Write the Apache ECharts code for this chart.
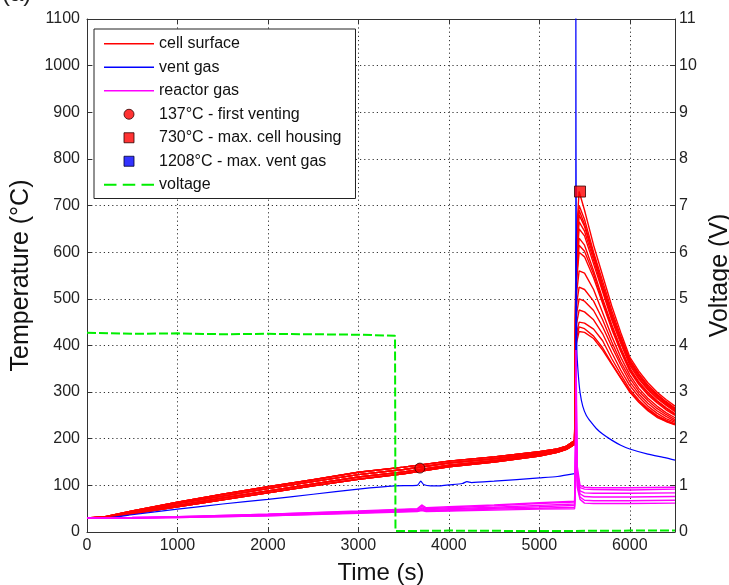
<!DOCTYPE html>
<html>
<head>
<meta charset="utf-8">
<script src="https://cdn.jsdelivr.net/npm/echarts@6/dist/echarts.min.js"></script>
<style>
html,body{margin:0;padding:0;background:#fff;}
#c{width:729px;height:585px;}
</style>
</head>
<body>
<div id="c"></div>
<script>
// ---------- DATA ----------
// cell surface (red) – pre-spike part (shared time grid)
const redPreTimes = [0, 200, 500, 1000, 1500, 2000, 2500, 3000, 3500, 4000, 4500, 5000, 5200, 5300, 5390];
const redPreA = [30, 33, 45, 64, 81, 97, 112, 128, 139, 152, 161, 172, 178, 184, 196];
const redPreB = [30, 32, 43, 61, 77, 93, 108, 123, 134, 148, 157, 169, 176, 182, 194];
const redPreC = [30, 31, 41, 57, 73, 88, 103, 118, 129, 143, 153, 166, 173, 179, 191];
const redPreD = [30, 30, 39, 54, 69, 84, 99, 113, 125, 140, 150, 163, 171, 177, 188];
// cell surface (red) – post-spike part
const redPostTimes = [5405, 5440, 5500, 5600, 5700, 5800, 5900, 6000, 6100, 6200, 6300, 6400, 6500];
const redPost1  = [620, 730, 690, 615, 550, 485, 428, 375, 345, 320, 300, 284, 270];
const redPost2  = [600, 700, 670, 600, 538, 475, 420, 370, 340, 315, 296, 280, 266];
const redPost3  = [590, 690, 660, 595, 530, 468, 415, 367, 337, 312, 294, 278, 264];
const redPost4  = [580, 680, 655, 590, 525, 465, 412, 365, 335, 310, 292, 276, 262];
const redPost5  = [570, 665, 645, 583, 520, 460, 408, 361, 331, 307, 289, 274, 260];
const redPost6  = [560, 650, 635, 575, 515, 455, 405, 358, 328, 305, 287, 272, 258];
const redPost7  = [540, 630, 615, 560, 500, 445, 395, 352, 322, 300, 282, 267, 254];
const redPost8  = [530, 615, 602, 553, 495, 440, 391, 348, 319, 297, 280, 265, 252];
const redPost9  = [520, 600, 590, 545, 490, 435, 387, 345, 316, 294, 277, 262, 250];
const redPost10 = [500, 560, 555, 520, 470, 420, 375, 337, 308, 287, 270, 256, 245];
const redPost11 = [480, 525, 520, 495, 455, 408, 365, 330, 302, 282, 265, 252, 241];
const redPost12 = [460, 500, 495, 475, 440, 398, 358, 322, 296, 276, 260, 248, 238];
const redPost13 = [440, 476, 472, 455, 425, 385, 347, 314, 290, 270, 255, 243, 235];
const redPost14 = [420, 450, 448, 435, 410, 372, 338, 306, 283, 265, 250, 240, 232];
const redPost15 = [400, 430, 428, 415, 390, 360, 330, 300, 278, 260, 246, 237, 230];
const redPost16 = [410, 440, 436, 420, 395, 362, 331, 302, 280, 262, 248, 238, 231];

// vent gas (blue)
const blueTimes  = [0, 200, 500, 1000, 1500, 2000, 2500, 3000, 3400, 3650, 3690, 3720, 3800, 3900, 4000, 4150, 4200, 4250, 4500, 5000, 5200, 5390, 5402, 5404, 5406, 5410, 5415, 5430, 5450, 5480, 5520, 5570, 5630, 5700, 5800, 5900, 6000, 6200, 6400, 6500];
const blueValues = [30, 30, 37, 49, 60, 70, 81, 92, 99, 100, 109, 102, 99, 99, 101, 104, 108, 106, 109, 116, 119, 125, 126, 1208, 830, 600, 390, 340, 300, 270, 250, 236, 222, 210, 197, 186, 178, 167, 159, 154];

// reactor gas (magenta)
const magPreTimes = [0, 500, 1000, 2000, 3000, 3650, 3700, 3750, 4000, 4500, 5000, 5390];
const magPre1 = [30, 31, 33, 38, 45, 50, 58, 52, 54, 58, 63, 66];
const magPre2 = [30, 31, 33, 38, 44, 49, 55, 50, 52, 56, 61, 64];
const magPre3 = [30, 30, 32, 37, 43, 47, 52, 48, 50, 53, 57, 60];
const magPre4 = [30, 30, 32, 36, 42, 46, 50, 46, 48, 51, 54, 57];
const magPre5 = [30, 30, 31, 35, 41, 45, 48, 45, 46, 49, 51, 53];
const magPre6 = [30, 30, 31, 35, 40, 44, 46, 44, 45, 47, 49, 50];
const magPostTimes = [5400, 5405, 5420, 5450, 5500, 5600, 6000, 6500];
const magPost1 = [200, 390, 140, 100, 96, 95, 95, 96];
const magPost2 = [180, 330, 130, 95, 92, 91, 90, 92];
const magPost3 = [160, 280, 120, 88, 84, 83, 83, 84];
const magPost4 = [150, 250, 110, 82, 76, 75, 75, 76];
const magPost5 = [140, 230, 100, 75, 68, 67, 67, 68];
const magPost6 = [130, 210, 95, 70, 62, 61, 61, 62];

// voltage (green, right axis)
const voltTimes  = [0, 500, 1000, 1500, 2000, 2500, 3000, 3405, 3410, 4000, 5000, 6000, 6500];
const voltValues = [4.27, 4.25, 4.26, 4.24, 4.25, 4.24, 4.23, 4.21, 0.02, 0.03, 0.02, 0.03, 0.03];

// markers
const firstVenting = [3680, 137];
const maxCellHousing = [5450, 730];
const maxVentGas = [5404, 1208];

// axes ticks
const xTicks = {min: 0, max: 6500, interval: 1000};
const yTicks = {min: 0, max: 1100, interval: 100};
const y2Ticks = {min: 0, max: 11, interval: 1};

// ---------- BUILD ----------
const zip = (t, v) => t.map((x, i) => [x, v[i]]);
const redPres = [redPreA, redPreC, redPreB, redPreD];
const redPosts = [redPost1, redPost2, redPost3, redPost4, redPost5, redPost6, redPost7, redPost8,
  redPost9, redPost10, redPost11, redPost12, redPost13, redPost14, redPost15, redPost16];
const magPres = [magPre1, magPre2, magPre3, magPre4, magPre5, magPre6];
const magPosts = [magPost1, magPost2, magPost3, magPost4, magPost5, magPost6];

const FONT = 'Liberation Sans, Arial, Helvetica, sans-serif';
const series = [];
redPosts.forEach((post, i) => {
  series.push({
    name: 'cell surface', type: 'line', showSymbol: false, symbol: 'none',
    data: zip(redPreTimes, redPres[i % 4]).concat(zip(redPostTimes, post)),
    lineStyle: {color: '#ff0000', width: 1.4}, itemStyle: {color: '#ff0000'},
    animation: false, z: 2
  });
});
series.push({
  name: 'vent gas', type: 'line', symbol: 'none', smooth: 0.2, data: zip(blueTimes, blueValues),
  lineStyle: {color: '#0000ff', width: 1.2}, itemStyle: {color: '#0000ff'}, animation: false, z: 3
});
magPosts.forEach((post, i) => {
  series.push({
    name: 'reactor gas', type: 'line', symbol: 'none',
    data: zip(magPreTimes, magPres[i]).concat(zip(magPostTimes, post)),
    lineStyle: {color: '#ff00ff', width: 1.4}, itemStyle: {color: '#ff00ff'}, animation: false, z: 4
  });
});
series.push({
  name: 'voltage', type: 'line', symbol: 'none', yAxisIndex: 1, data: zip(voltTimes, voltValues),
  lineStyle: {color: '#00ee00', width: 2, type: [9, 3]}, itemStyle: {color: '#00ee00'}, animation: false, z: 5
});
series.push({
  name: '137°C - first venting', type: 'scatter', symbol: 'circle', symbolSize: 10, clip: true,
  data: [firstVenting], itemStyle: {color: '#ff0000', borderColor: '#300000', borderWidth: 1}, z: 6
});
series.push({
  name: '730°C - max. cell housing', type: 'scatter', symbol: 'rect', symbolSize: 11, clip: true,
  data: [maxCellHousing], itemStyle: {color: '#ff0000', borderColor: '#300000', borderWidth: 1}, z: 6
});
series.push({
  name: '1208°C - max. vent gas', type: 'scatter', symbol: 'rect', symbolSize: 11, clip: true,
  data: [maxVentGas], itemStyle: {color: '#0000ff', borderColor: '#000030', borderWidth: 1}, z: 6
});

const lineIcon = 'path://M0,0h50v1.4h-50z';
const dashIcon = 'path://M0,0h12v2h-12zM18,0h12v2h-12zM36,0h12v2h-12z';
const squareIcon = 'path://M0,0h10v10h-10z';
const noFmt = v => String(v);
const gridDots = {color: '#333', type: [1.2, 3], width: 1};

const chart = echarts.init(document.getElementById('c'), null, {renderer: 'canvas'});
chart.setOption({
  animation: false,
  backgroundColor: '#fff',
  textStyle: {fontFamily: FONT},
  grid: {left: 87, right: 54, top: 19, bottom: 53, containLabel: false, outerBoundsMode: 'none'},
  graphic: [{
    type: 'text', left: 2, top: -18,
    style: {text: '(a)', font: '24px ' + FONT, fill: '#222'}
  }],
  legend: {
    orient: 'vertical', left: 94, top: 29,
    backgroundColor: '#fff', borderColor: '#222', borderWidth: 1,
    padding: [3, 14, 2, 10], itemGap: 0, itemWidth: 50, itemHeight: 10,
    textStyle: {fontSize: 16, lineHeight: 23.5, color: '#111', fontFamily: FONT},
    selectedMode: false,
    data: [
      {name: 'cell surface', icon: lineIcon, itemStyle: {color: '#ff0000', borderWidth: 0}},
      {name: 'vent gas', icon: lineIcon, itemStyle: {color: '#0000ff', borderWidth: 0}},
      {name: 'reactor gas', icon: lineIcon, itemStyle: {color: '#ff00ff', borderWidth: 0}},
      {name: '137°C - first venting', icon: 'circle', itemStyle: {color: '#ff0000', borderColor: '#300000', borderWidth: 1}},
      {name: '730°C - max. cell housing', icon: squareIcon, itemStyle: {color: '#ff0000', borderColor: '#300000', borderWidth: 1}},
      {name: '1208°C - max. vent gas', icon: squareIcon, itemStyle: {color: '#0000ff', borderColor: '#000030', borderWidth: 1}},
      {name: 'voltage', icon: dashIcon, itemStyle: {color: '#00ee00', borderWidth: 0}}
    ]
  },
  xAxis: [{
    type: 'value', position: 'bottom', min: xTicks.min, max: xTicks.max, interval: xTicks.interval,
    name: 'Time (s)', nameLocation: 'middle', nameGap: 29,
    nameTextStyle: {fontSize: 24, color: '#111', fontFamily: FONT},
    axisLine: {show: true, onZero: false, lineStyle: {color: '#333', width: 1}},
    axisTick: {show: true, inside: true, length: 5, lineStyle: {color: '#333'}},
    axisLabel: {fontSize: 16, color: '#222', margin: 6, showMaxLabel: false, fontFamily: FONT, formatter: noFmt},
    splitLine: {show: true, lineStyle: gridDots}
  }, {
    type: 'value', position: 'top', min: xTicks.min, max: xTicks.max, interval: xTicks.interval,
    axisLine: {show: true, onZero: false, lineStyle: {color: '#333', width: 1}},
    axisTick: {show: true, inside: true, length: 5, lineStyle: {color: '#333'}},
    axisLabel: {show: false}, splitLine: {show: false}
  }],
  yAxis: [{
    type: 'value', position: 'left', min: yTicks.min, max: yTicks.max, interval: yTicks.interval,
    name: 'Temperature (°C)', nameLocation: 'middle', nameGap: 43,
    nameTextStyle: {fontSize: 25, color: '#111', fontFamily: FONT},
    axisLine: {show: true, onZero: false, lineStyle: {color: '#333', width: 1}},
    axisTick: {show: true, inside: true, length: 5, lineStyle: {color: '#333'}},
    axisLabel: {fontSize: 16, color: '#222', margin: 7, fontFamily: FONT, formatter: noFmt},
    splitLine: {show: true, lineStyle: gridDots}
  }, {
    type: 'value', position: 'right', min: y2Ticks.min, max: y2Ticks.max, interval: y2Ticks.interval,
    name: 'Voltage (V)', nameLocation: 'middle', nameGap: 25,
    nameTextStyle: {fontSize: 25, color: '#111', fontFamily: FONT},
    axisLine: {show: true, onZero: false, lineStyle: {color: '#333', width: 1}},
    axisTick: {show: true, inside: true, length: 5, lineStyle: {color: '#333'}},
    axisLabel: {fontSize: 16, color: '#222', margin: 4, fontFamily: FONT, formatter: noFmt},
    splitLine: {show: false}
  }],
  series: series
});
</script>
</body>
</html>
